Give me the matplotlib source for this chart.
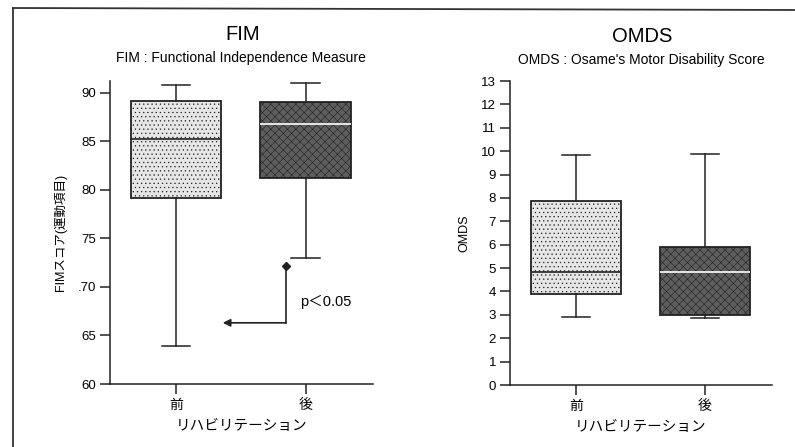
import matplotlib
matplotlib.use("Agg")
import matplotlib.pyplot as plt
from matplotlib.lines import Line2D

plt.rcParams["font.family"] = ["Liberation Sans", "Noto Sans CJK JP"]
plt.rcParams["hatch.linewidth"] = 0.4

# ── data ───────────────────────────────────────────────────
groups = ["前", "後"]
xlabel = "リハビリテーション"

fim_whislo = [63.9, 73.0]
fim_q1 = [79.1, 81.2]
fim_med = [85.2, 86.8]
fim_q3 = [89.1, 89.0]
fim_whishi = [90.8, 91.0]
fim_ticks = [60, 65, 70, 75, 80, 85, 90]
fim_tick_labels = ["60", "65", ".70", "75", "80", "85", "90"]

omds_whislo = [2.9, 2.85]
omds_q1 = [3.9, 3.0]
omds_med = [4.85, 4.85]
omds_q3 = [7.85, 5.9]
omds_whishi = [9.85, 9.9]
omds_ticks = list(range(0, 14))

# significance bracket (after-diamond -> before-arrow)
sig_x_start, sig_y_start = 1.846, 72.2
sig_y_turn = 66.3
sig_x_end = 1.36
sig_text = "p＜0.05"

face_light = "#e6e6e6"
face_dark = "#5e5e5e"
ink = "#222222"


def draw_panel(ax, lo, q1, med, q3, hi, ylim, ticks, tlabels, ylabel):
    stats = []
    for i in range(len(groups)):
        stats.append(dict(whislo=lo[i], q1=q1[i], med=med[i], q3=q3[i],
                          whishi=hi[i], label=groups[i]))
    b = ax.bxp(stats, positions=[1, 2], widths=0.7, showfliers=False, patch_artist=True,
               boxprops=dict(linewidth=1.3, edgecolor=ink),
               whiskerprops=dict(linewidth=1.1, color=ink),
               capprops=dict(linewidth=1.1, color=ink),
               medianprops=dict(linewidth=1.2), capwidths=0.22)
    # stippled look of the scan: dotted light box, dense dark box
    b["boxes"][0].set_facecolor(face_light)
    b["boxes"][0].set_hatch("....")
    b["boxes"][1].set_facecolor(face_dark)
    b["boxes"][1].set_hatch("xxxx")
    b["medians"][0].set_color(ink)
    b["medians"][1].set_color("white")

    ax.set_xlim(0.49, 2.52)
    ax.set_ylim(*ylim)
    ax.set_yticks(ticks)
    ax.set_yticklabels(tlabels, fontsize=9.5)
    ax.set_xticks([1, 2])
    ax.set_xticklabels(groups, fontsize=10)
    ax.tick_params(direction="out", length=7, width=1.1, pad=3, color=ink)
    for s in ("top", "right"):
        ax.spines[s].set_visible(False)
    for s in ("left", "bottom"):
        ax.spines[s].set_linewidth(1.1)
        ax.spines[s].set_color(ink)
    ax.set_xlabel(xlabel, fontsize=10.5, labelpad=5)
    ax.set_ylabel(ylabel, fontsize=9, labelpad=8)
    return b


fig = plt.figure(figsize=(7.95, 4.47), dpi=100)
ax1 = fig.add_axes([0.1384, 0.1409, 0.3308, 0.678])
ax2 = fig.add_axes([0.6415, 0.1387, 0.3296, 0.680])

draw_panel(ax1, fim_whislo, fim_q1, fim_med, fim_q3, fim_whishi, (60, 91.2),
           fim_ticks, fim_tick_labels, "FIMスコア(運動項目)")
draw_panel(ax2, omds_whislo, omds_q1, omds_med, omds_q3, omds_whishi, (0, 13),
           omds_ticks, [str(t) for t in omds_ticks], "OMDS")

# titles
fig.text(243 / 795, 1 - 35 / 447, "FIM", ha="center", va="center", fontsize=14.5)
fig.text(241 / 795, 1 - 58 / 447, "FIM : Functional Independence Measure",
         ha="center", va="center", fontsize=10)
fig.text(642 / 795, 1 - 36 / 447, "OMDS", ha="center", va="center", fontsize=14.5)
fig.text(641 / 795, 1 - 60 / 447, "OMDS : Osame's Motor Disability Score",
         ha="center", va="center", fontsize=10)

# significance marker on FIM panel
ax1.plot([sig_x_start, sig_x_start], [sig_y_start, sig_y_turn], color=ink, lw=1.2)
ax1.plot([sig_x_start], [sig_y_start], marker="D", ms=4.5, color=ink)
ax1.annotate("", xy=(sig_x_end, sig_y_turn), xytext=(sig_x_start, sig_y_turn),
             arrowprops=dict(arrowstyle="-|>", lw=1.2, color=ink,
                             mutation_scale=11, shrinkA=0, shrinkB=0))
ax1.text(1.96, 68.5, sig_text, fontsize=10.5, va="center", ha="left")

# partial page frame (scan border)
fig.add_artist(Line2D([13 / 795, 13 / 795], [0, 1 - 8 / 447], transform=fig.transFigure,
                      color="#333333", lw=1.3))
fig.add_artist(Line2D([13 / 795, 1], [1 - 8 / 447, 1 - 10 / 447], transform=fig.transFigure,
                      color="#333333", lw=1.3))

fig.savefig("out.png", dpi=100)
